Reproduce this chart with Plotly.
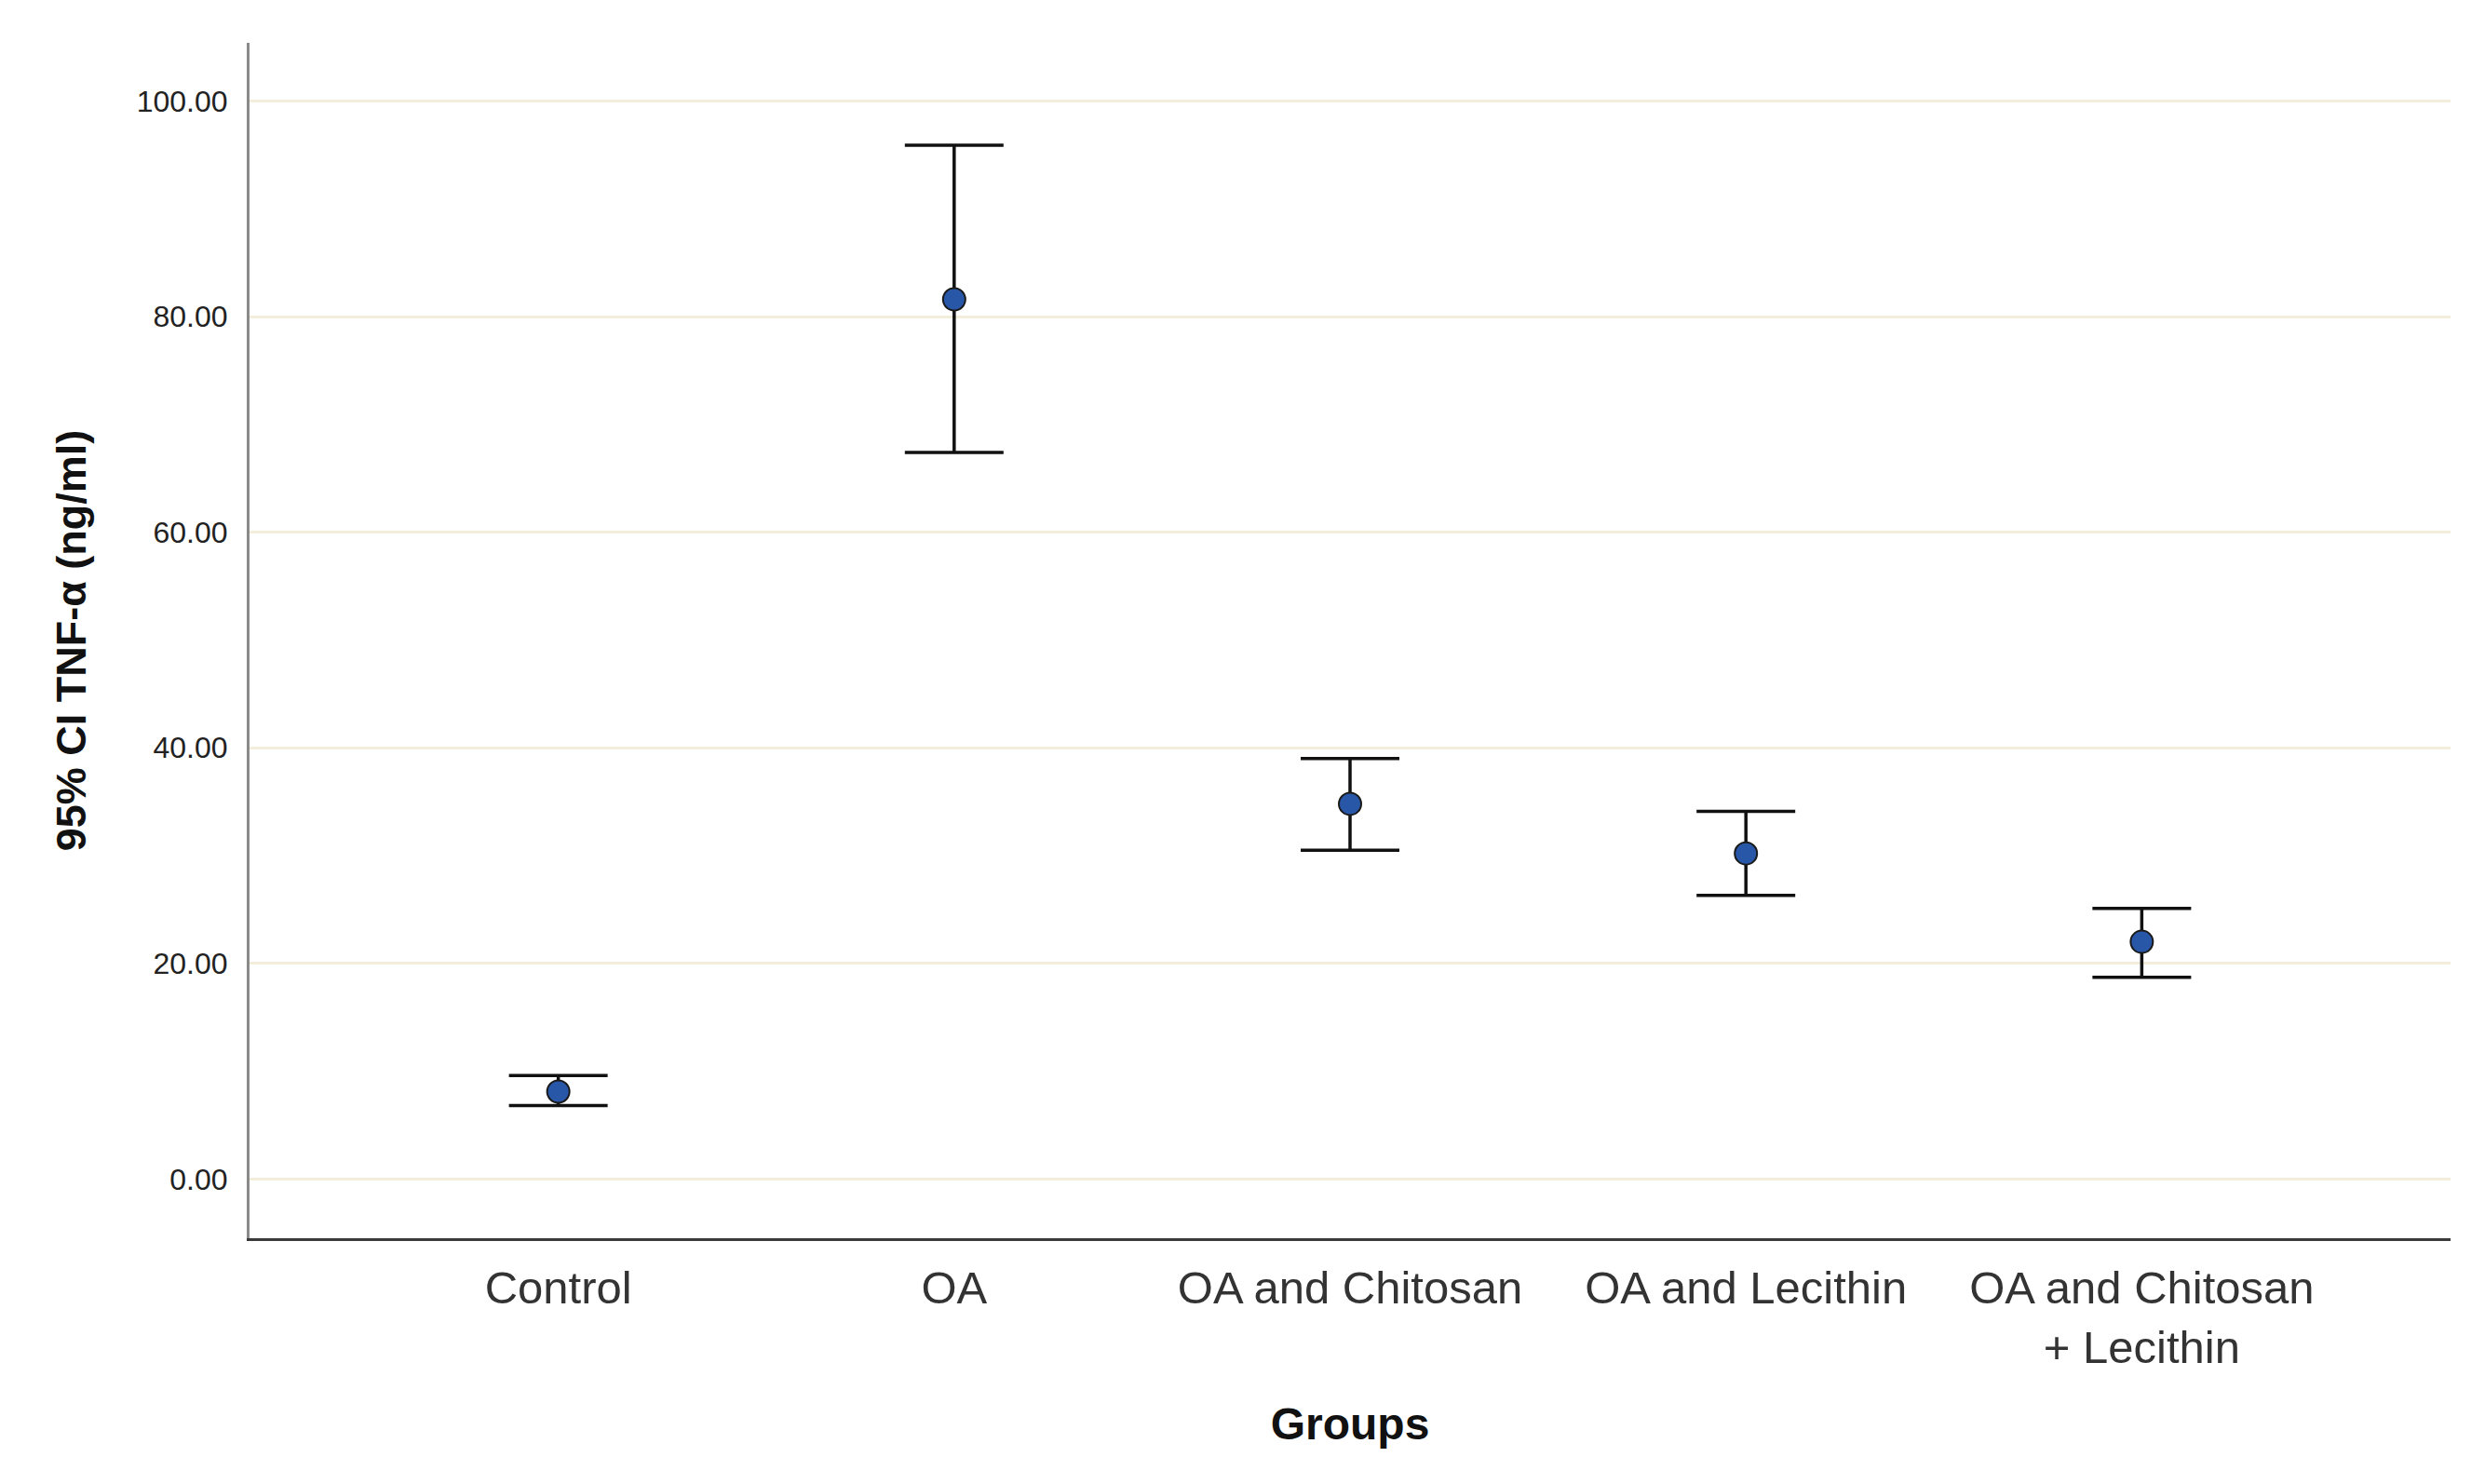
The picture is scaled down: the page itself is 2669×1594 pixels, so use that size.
import plotly.graph_objects as go

groups = ["Control", "OA", "OA and Chitosan", "OA and Lecithin", "OA and Chitosan<br>+ Lecithin"]
means = [8.1, 81.6, 34.8, 30.2, 22.0]
ci_upper = [9.6, 95.9, 39.0, 34.1, 25.1]
ci_lower = [6.8, 67.4, 30.5, 26.3, 18.7]

err_plus = [u - m for u, m in zip(ci_upper, means)]
err_minus = [m - l for m, l in zip(means, ci_lower)]

fig = go.Figure()
fig.add_trace(go.Scatter(
    x=list(range(len(groups))),
    y=means,
    mode="markers",
    marker=dict(size=24, color="#2957A8", line=dict(color="#1a1a1a", width=2)),
    error_y=dict(type="data", symmetric=False, array=err_plus, arrayminus=err_minus,
                 color="#111111", thickness=3.5, width=53),
    showlegend=False,
))

fig.update_layout(
    width=2669, height=1594,
    margin=dict(l=260, r=45, t=38, b=272),
    paper_bgcolor="white", plot_bgcolor="white",
    font=dict(family="Liberation Sans, Arial, sans-serif", color="#222222"),
)

fig.update_xaxes(
    range=[-0.78, 4.78],
    tickmode="array", tickvals=list(range(len(groups))), ticktext=groups,
    tickfont=dict(size=49, color="#333333"),
    showgrid=False, zeroline=False,
    showline=True, linecolor="#3a3a3a", linewidth=3,
    ticks="", ticklabelstandoff=8,
    title=dict(text="<b>Groups</b>", font=dict(size=48, color="#111111"), standoff=40),
)

fig.update_yaxes(
    range=[-5.5, 105.4],
    tickmode="array", tickvals=[0, 20, 40, 60, 80, 100], tickformat=".2f",
    tickfont=dict(size=32, color="#222222"),
    showgrid=True, gridcolor="#F3EEDC", gridwidth=3,
    zeroline=False,
    showline=True, linecolor="#8a8a8a", linewidth=3,
    ticks="", ticklabelstandoff=14,
    title=dict(text="<b>95% CI TNF-α (ng/ml)</b>", font=dict(size=45, color="#111111"), standoff=40),
)

fig.write_html("out.html")
